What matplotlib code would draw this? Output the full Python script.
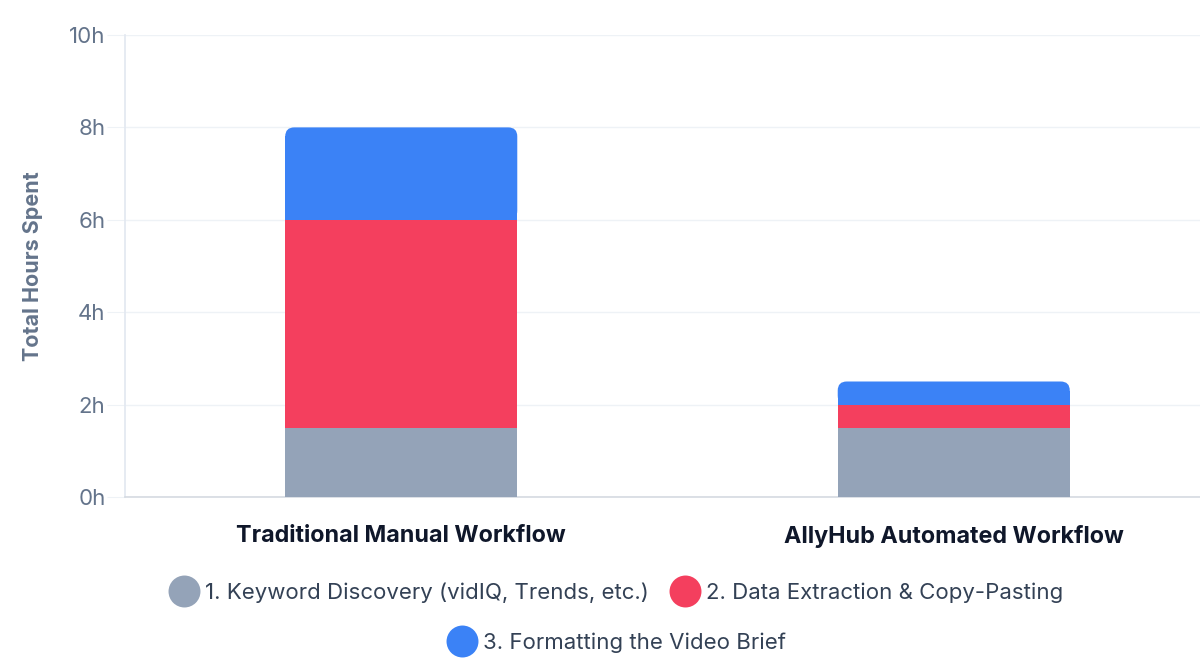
import matplotlib.pyplot as plt
from matplotlib.patches import FancyBboxPatch, Rectangle
from matplotlib.lines import Line2D

# data
workflows = ["Traditional Manual Workflow", "AllyHub Automated Workflow"]
stages = ["1. Keyword Discovery (vidIQ, Trends, etc.)",
          "2. Data Extraction & Copy-Pasting",
          "3. Formatting the Video Brief"]
keyword_hours = [1.5, 1.5]
extract_hours = [4.5, 0.5]
format_hours = [2.0, 0.5]
y_ticks = [0, 2, 4, 6, 8, 10]
y_tick_labels = ["0h", "2h", "4h", "6h", "8h", "10h"]

COLORS = ["#94a3b8", "#f43f5e", "#3b82f6"]
TICK_COLOR = "#64748b"

plt.rcParams['font.family'] = ['Inter', 'DejaVu Sans']

fig = plt.figure(figsize=(12, 6.63), dpi=100)
# axes right edge runs past the picture, like the cropped original
ax = fig.add_axes([125 / 1200, 1 - 497 / 663, 1105 / 1200, 462 / 663])

x = list(range(len(workflows)))
width = 0.42
series = [keyword_hours, extract_hours, format_hours]
bottom = [0.0] * len(workflows)
for i, vals in enumerate(series):
    bars = ax.bar(x, vals, width, bottom=bottom, color=COLORS[i], linewidth=0, zorder=3)
    if i == len(series) - 1:
        # round the top corners of the top segment
        for b in bars:
            bx, by, bw, bh = b.get_x(), b.get_y(), b.get_width(), b.get_height()
            b.remove()
            rx = 9 / 552
            ry = 9 / 46.2
            ax.add_patch(FancyBboxPatch((bx, by), bw, bh,
                                        boxstyle=f"round,pad=0,rounding_size={rx}",
                                        mutation_aspect=ry / rx,
                                        facecolor=COLORS[i], linewidth=0, zorder=3))
            ax.add_patch(Rectangle((bx, by), bw, bh - ry, facecolor=COLORS[i],
                                   linewidth=0, zorder=3))
    bottom = [b + v for b, v in zip(bottom, vals)]

ax.set_xlim(-0.5, 1.5)
ax.set_ylim(0, 10)
ax.set_yticks(y_ticks)
ax.set_yticklabels(y_tick_labels)
ax.set_xticks(x)
ax.set_xticklabels(workflows, fontsize=16.8, fontweight='bold', color="#0f172a")

ax.grid(axis='y', color="#eef2f6", linewidth=1, zorder=0)
ax.tick_params(axis='y', length=13, color="#eef2f6", labelcolor=TICK_COLOR,
               labelsize=16, pad=1)
ax.tick_params(axis='x', length=0, pad=20)

for s in ['top', 'right']:
    ax.spines[s].set_visible(False)
ax.spines['left'].set_color("#e2e8f0")
ax.spines['bottom'].set_color("#d5dae1")
ax.spines['left'].set_linewidth(1.2)
ax.spines['bottom'].set_linewidth(1.2)

ax.set_ylabel("Total Hours Spent", fontsize=15.5, fontweight='bold',
              color=TICK_COLOR, labelpad=19)

handles = [Line2D([], [], marker='o', linestyle='', markersize=23,
                  markerfacecolor=c, markeredgewidth=0) for c in COLORS]

leg1 = fig.legend(handles[:2], stages[:2], loc='center', ncol=2,
                  bbox_to_anchor=(617 / 1200, 1 - 593 / 663), frameon=False,
                  fontsize=16, handletextpad=0.35, columnspacing=1.0,
                  handlelength=1.2, labelcolor="#334155")
leg2 = fig.legend(handles[2:], stages[2:], loc='center',
                  bbox_to_anchor=(617 / 1200, 1 - 643 / 663), frameon=False,
                  fontsize=16, handletextpad=0.35, handlelength=1.2,
                  labelcolor="#334155")

fig.savefig("out.png", dpi=100)
